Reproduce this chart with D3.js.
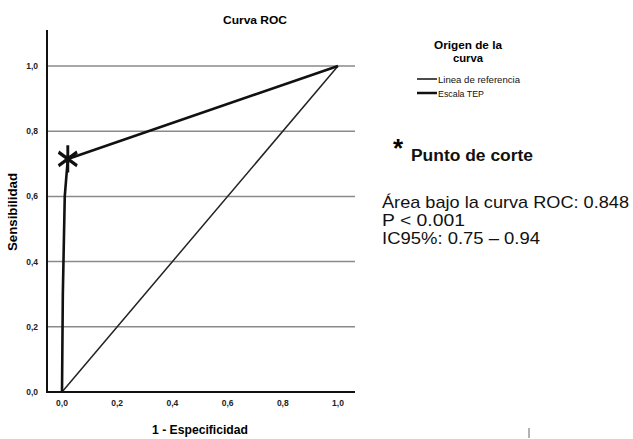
<!DOCTYPE html>
<html>
<head>
<meta charset="utf-8">
<script src="https://cdn.jsdelivr.net/npm/d3@7"></script>
<style>
body { margin:0; background:#fff; }
text { font-family: "Liberation Sans", Arial, sans-serif; }
</style>
</head>
<body>
<div id="chart"></div>
<script>
// ROC curve points (1 - especificidad, sensibilidad)
var fpr = [0, 0.003, 0.01, 0.021, 1];
var tpr = [0, 0.30, 0.60, 0.715, 1];
var refX = [0, 1];
var refY = [0, 1];
var cutPoint = [0.021, 0.715];
var ticks = [0, 0.2, 0.4, 0.6, 0.8, 1.0];
var tickLabels = ["0,0","0,2","0,4","0,6","0,8","1,0"];
var legendItems = ["Linea de referencia", "Escala TEP"];
var statLines = ["Área bajo la curva ROC: 0.848", "P < 0.001", "IC95%: 0.75 – 0.94"];

var width = 633, height = 439;

var svg = d3.select("#chart").append("svg")
    .attr("width", width)
    .attr("height", height);

var x = d3.scaleLinear().domain([0, 1]).range([62, 338]);
var y = d3.scaleLinear().domain([0, 1]).range([392, 66]);

var axisLeftX = 47, axisRightX = 355, axisTopY = 30;

// gridlines
svg.selectAll(".grid")
    .data(ticks.slice(1))
    .enter()
    .append("line")
    .attr("x1", axisLeftX)
    .attr("x2", axisRightX)
    .attr("y1", function(d) { return y(d); })
    .attr("y2", function(d) { return y(d); })
    .attr("stroke", "#8a8a8a")
    .attr("stroke-width", 1.5);

// axes lines
svg.append("line")
    .attr("x1", axisLeftX).attr("x2", axisLeftX)
    .attr("y1", axisTopY).attr("y2", y(0) + 1)
    .attr("stroke", "#111").attr("stroke-width", 2);
svg.append("line")
    .attr("x1", axisLeftX - 1).attr("x2", axisRightX)
    .attr("y1", y(0)).attr("y2", y(0))
    .attr("stroke", "#111").attr("stroke-width", 2);

// tick labels
svg.selectAll(".ylab")
    .data(ticks)
    .enter()
    .append("text")
    .attr("x", 38)
    .attr("y", function(d) { return y(d) + 3; })
    .attr("text-anchor", "end")
    .style("font-size", "8.5px")
    .style("font-weight", "bold")
    .attr("fill", "#222")
    .text(function(d, i) { return tickLabels[i]; });

svg.selectAll(".xlab")
    .data(ticks)
    .enter()
    .append("text")
    .attr("x", function(d) { return x(d); })
    .attr("y", 406)
    .attr("text-anchor", "middle")
    .style("font-size", "8.5px")
    .style("font-weight", "bold")
    .attr("fill", "#222")
    .text(function(d, i) { return tickLabels[i]; });

// titles
svg.append("text")
    .attr("x", 255).attr("y", 24)
    .attr("text-anchor", "middle")
    .attr("textLength", 64).attr("lengthAdjust", "spacingAndGlyphs")
    .style("font-size", "11px").style("font-weight", "bold")
    .text("Curva ROC");

svg.append("text")
    .attr("x", 200).attr("y", 434)
    .attr("text-anchor", "middle")
    .attr("textLength", 96).attr("lengthAdjust", "spacingAndGlyphs")
    .style("font-size", "13px").style("font-weight", "bold")
    .text("1 - Especificidad");

svg.append("text")
    .attr("transform", "translate(17,212) rotate(-90)")
    .attr("text-anchor", "middle")
    .attr("textLength", 78).attr("lengthAdjust", "spacingAndGlyphs")
    .style("font-size", "12px").style("font-weight", "bold")
    .text("Sensibilidad");

// reference line
var line = d3.line()
    .x(function(d) { return x(d[0]); })
    .y(function(d) { return y(d[1]); });

svg.append("path")
    .datum(d3.zip(refX, refY))
    .attr("d", line)
    .attr("fill", "none")
    .attr("stroke", "#222")
    .attr("stroke-width", 1.5);

// ROC curve
svg.append("path")
    .datum(d3.zip(fpr, tpr))
    .attr("d", line)
    .attr("fill", "none")
    .attr("stroke", "#111")
    .attr("stroke-width", 2.6)
    .attr("stroke-linejoin", "round");

// cut point asterisk
svg.append("path")
    .attr("transform", "translate(" + x(cutPoint[0]) + "," + y(cutPoint[1]) + ") scale(0.9,1.15)")
    .attr("d", d3.symbol().type(d3.symbolAsterisk).size(400)())
    .attr("fill", "none")
    .attr("stroke", "#111")
    .attr("stroke-width", 3.2);

// legend
svg.append("text")
    .attr("x", 468).attr("y", 49)
    .attr("text-anchor", "middle")
    .attr("textLength", 68).attr("lengthAdjust", "spacingAndGlyphs")
    .style("font-size", "11px").style("font-weight", "bold")
    .text("Origen de la");
svg.append("text")
    .attr("x", 468).attr("y", 62)
    .attr("text-anchor", "middle")
    .attr("textLength", 30).attr("lengthAdjust", "spacingAndGlyphs")
    .style("font-size", "11px").style("font-weight", "bold")
    .text("curva");

var legend = svg.selectAll(".leg")
    .data(legendItems)
    .enter()
    .append("g")
    .attr("transform", function(d, i) { return "translate(417," + (79 + i * 14) + ")"; });
legend.append("line")
    .attr("x1", 0).attr("x2", 20)
    .attr("stroke", "#111")
    .attr("stroke-width", function(d, i) { return i == 0 ? 1.5 : 2.5; });
legend.append("text")
    .attr("x", 21).attr("y", 4)
    .attr("textLength", function(d, i) { return i == 0 ? 82 : 46; })
    .attr("lengthAdjust", "spacingAndGlyphs")
    .style("font-size", "9.5px")
    .attr("fill", "#111")
    .text(function(d) { return d; });

// cut point note
svg.append("text")
    .attr("x", 393).attr("y", 157)
    .style("font-size", "26px").style("font-weight", "bold")
    .text("*");
svg.append("text")
    .attr("x", 411).attr("y", 161)
    .attr("textLength", 122).attr("lengthAdjust", "spacingAndGlyphs")
    .style("font-size", "16px").style("font-weight", "bold")
    .attr("fill", "#111")
    .text("Punto de corte");

svg.selectAll(".stat")
    .data(statLines)
    .enter()
    .append("text")
    .attr("x", 382)
    .attr("y", function(d, i) { return 208 + i * 18; })
    .attr("textLength", function(d, i) { return [247, 83, 158][i]; })
    .attr("lengthAdjust", "spacingAndGlyphs")
    .style("font-size", "17px")
    .attr("fill", "#111")
    .text(function(d) { return d; });

// small stray mark at bottom
svg.append("line")
    .attr("x1", 529).attr("x2", 529)
    .attr("y1", 428).attr("y2", 438)
    .attr("stroke", "#666").attr("stroke-width", 1);
</script>
</body>
</html>
